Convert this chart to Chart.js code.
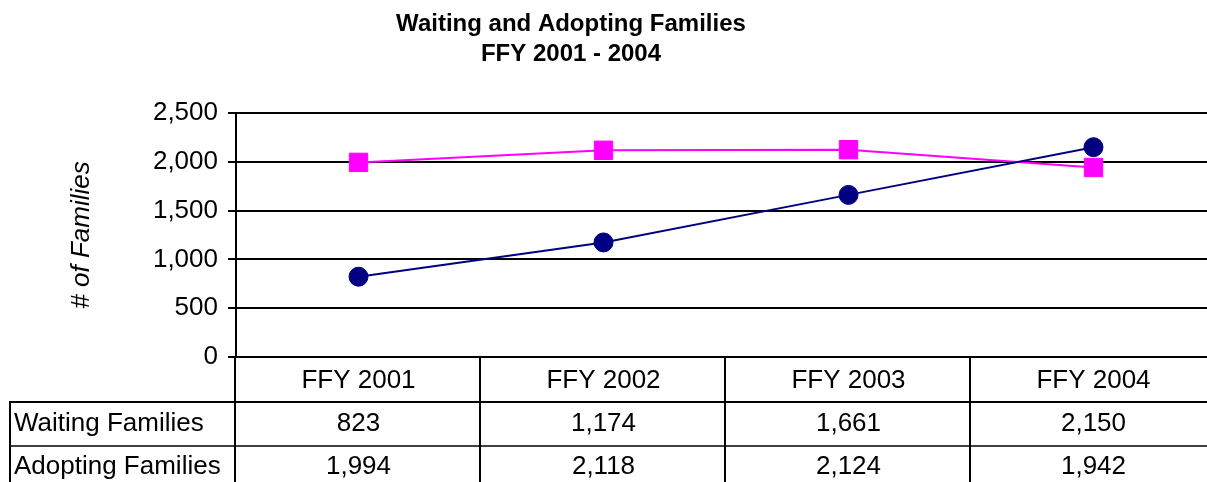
<!DOCTYPE html>
<html>
<head>
<meta charset="utf-8">
<script src="https://cdn.jsdelivr.net/npm/chart.js@4/dist/chart.umd.min.js"></script>
<style>
  html, body { margin: 0; padding: 0; background: #ffffff; overflow: hidden; }
  #wrap { width: 1207px; height: 482px; position: relative; overflow: hidden; }
  #c { position: absolute; left: 0; top: 0; }
</style>
</head>
<body>
<div id="wrap"><canvas id="c" width="1216" height="482"></canvas></div>
<script>
const titleLines = ['Waiting and Adopting Families', 'FFY 2001 - 2004'];
const categories = ['FFY 2001', 'FFY 2002', 'FFY 2003', 'FFY 2004'];
const waitingFamilies = [823, 1174, 1661, 2150];
const adoptingFamilies = [1994, 2118, 2124, 1942];
const seriesNames = ['Waiting Families', 'Adopting Families'];
const yTickValues = [0, 500, 1000, 1500, 2000, 2500];
const yAxisTitle = '# of Families';

const FONT = '"Liberation Sans", Arial, sans-serif';

function fmt(v) { return Number(v).toLocaleString('en-US'); }

const tablePlugin = {
  id: 'dataTable',
  afterDraw(chart) {
    const ctx = chart.ctx;
    const area = chart.chartArea;
    const xs = chart.scales.x;
    const n = categories.length;
    const centers = categories.map((_, i) => xs.getPixelForValue(i));
    const bounds = [area.left];
    for (let i = 0; i < n - 1; i++) bounds.push((centers[i] + centers[i + 1]) / 2);
    bounds.push(area.right);

    const top = area.bottom;
    const headerH = 45;
    const rowH = 44;
    const r1 = top + headerH;
    const r2 = r1 + rowH;
    const bottom = chart.height + 10;
    const tableLeft = 9;

    ctx.save();
    ctx.strokeStyle = '#000000';
    ctx.lineWidth = 2;
    ctx.beginPath();
    ctx.moveTo(tableLeft, r1); ctx.lineTo(area.right, r1);
    ctx.stroke();
    ctx.lineWidth = 1.5;
    ctx.beginPath();
    ctx.moveTo(tableLeft, r2); ctx.lineTo(area.right, r2);
    ctx.stroke();
    ctx.lineWidth = 2;
    ctx.beginPath();
    for (let i = 0; i < bounds.length - 1; i++) {
      const bx = Math.round(bounds[i]) - 1;
      ctx.moveTo(bx, top); ctx.lineTo(bx, bottom);
    }
    ctx.moveTo(tableLeft + 1, r1 - 1); ctx.lineTo(tableLeft + 1, bottom);
    ctx.stroke();

    ctx.fillStyle = '#000000';
    ctx.font = '26px ' + FONT;
    ctx.textBaseline = 'middle';
    ctx.textAlign = 'center';
    categories.forEach((c, i) => ctx.fillText(c, centers[i], top + headerH / 2 + 1));
    const rows = [waitingFamilies, adoptingFamilies];
    const rowCenters = [r1 + rowH / 2, r2 + 21];
    rows.forEach((vals, j) => {
      ctx.textAlign = 'center';
      vals.forEach((v, i) => ctx.fillText(fmt(v), centers[i], rowCenters[j]));
      ctx.textAlign = 'left';
      ctx.fillText(seriesNames[j], 14, rowCenters[j]);
    });

    ctx.font = 'bold 24px ' + FONT;
    ctx.textAlign = 'center';
    ctx.fillText(titleLines[0], 571, 24);
    ctx.fillText(titleLines[1], 571, 54);
    ctx.restore();
  }
};

new Chart(document.getElementById('c'), {
  type: 'line',
  data: {
    labels: categories,
    datasets: [
      {
        label: seriesNames[0],
        data: waitingFamilies,
        borderColor: '#000080',
        backgroundColor: '#000080',
        borderWidth: 2,
        pointStyle: 'circle',
        pointRadius: 9.5,
        pointBorderWidth: 1,
        tension: 0,
        clip: false
      },
      {
        label: seriesNames[1],
        data: adoptingFamilies,
        borderColor: '#FF00FF',
        backgroundColor: '#FF00FF',
        borderWidth: 2,
        pointStyle: 'rect',
        pointRadius: 13,
        pointBorderWidth: 1,
        tension: 0,
        clip: false
      }
    ]
  },
  plugins: [tablePlugin],
  options: {
    responsive: false,
    animation: false,
    events: [],
    layout: { autoPadding: false, padding: { left: 0, right: 0, top: 113, bottom: 125 } },
    plugins: {
      legend: { display: false },
      title: { display: false },
      tooltip: { enabled: false }
    },
    scales: {
      x: {
        type: 'category',
        offset: true,
        display: false
      },
      y: {
        min: 0,
        max: 2500,
        afterBuildTicks(scale) {
          scale.ticks = yTickValues.map(v => ({ value: v }));
        },
        afterFit(scale) { scale.width = 236; },
        ticks: {
          color: '#000000',
          font: { family: FONT, size: 26 },
          padding: 10,
          callback: (v) => fmt(v)
        },
        grid: {
          color: '#000000',
          lineWidth: 2,
          drawTicks: true,
          tickLength: 8,
          tickColor: '#000000'
        },
        border: { display: true, color: '#000000', width: 2 },
        title: {
          display: true,
          text: yAxisTitle,
          color: '#000000',
          font: { family: FONT, size: 26, style: 'italic' },
          padding: { top: 66, bottom: 0 }
        }
      }
    }
  }
});
</script>
</body>
</html>
